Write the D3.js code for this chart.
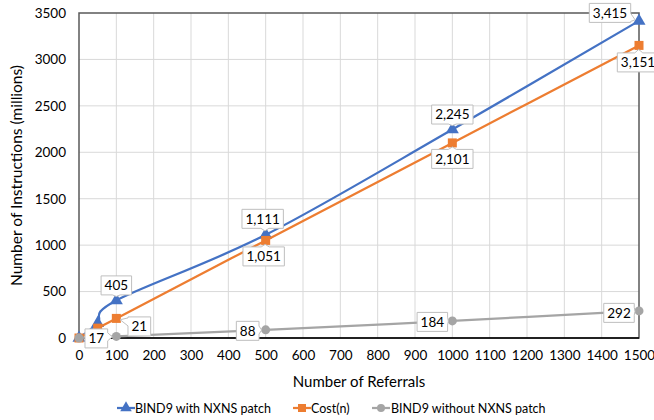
<!DOCTYPE html>
<html><head><meta charset="utf-8">
<script src="https://cdn.jsdelivr.net/npm/d3@7"></script>
<style>
html,body{margin:0;padding:0;background:#fff;}
svg{display:block;font-family:Lato,"Open Sans",sans-serif;}
</style></head>
<body>
<svg id="chart" width="654" height="420"></svg>
<script>
// ---- data ----
const referrals = [0, 50, 100, 500, 1000, 1500];
const withPatch = [0, 160, 405, 1111, 2245, 3415];
const costN = [0, 106, 211, 1051, 2101, 3151];
const withoutPatch = [0, 9, 17, 88, 184, 292];
const seriesNames = ["BIND9 with NXNS patch", "Cost(n)", "BIND9 without NXNS patch"];
const labelText = [
  ["", "", "405", "1,111", "2,245", "3,415"],
  ["", "", "21", "1,051", "2,101", "3,151"],
  ["", "", "17", "88", "184", "292"]
];
const xTicks = [0,100,200,300,400,500,600,700,800,900,1000,1100,1200,1300,1400,1500];
const yTicks = [0,500,1000,1500,2000,2500,3000,3500];

// ---- layout / styles ----
const colors = ["#4472C4", "#ED7D31", "#A5A5A5"];
const shapes = ["triangle", "square", "circle"];
const labelOffsets = [
  [null, null, [0,-15], [-3,-16], [0,-15], [-29,-8]],
  [null, null, [23,8], [-2,16], [0,16], [-1,17]],
  [null, null, [-20,2], [-18,1], [-20,1], [-20,2]]
];
const L = 79, R = 639, T = 13, B = 338;

const svg = d3.select("#chart");
const x = d3.scaleLinear().domain([0,1500]).range([L,R]);
const y = d3.scaleLinear().domain([0,3500]).range([B,T]);

// gridlines
svg.append("g").selectAll("line.v").data(xTicks.slice(1,-1)).join("line")
  .attr("x1", d=>x(d)).attr("x2", d=>x(d)).attr("y1", T).attr("y2", B)
  .attr("stroke", "#d9d9d9").attr("stroke-width", 1);
svg.append("g").selectAll("line.h").data(yTicks.slice(1,-1)).join("line")
  .attr("y1", d=>y(d)).attr("y2", d=>y(d)).attr("x1", L).attr("x2", R)
  .attr("stroke", "#d9d9d9").attr("stroke-width", 1);

// plot border
svg.append("rect").attr("x", L).attr("y", T).attr("width", R-L).attr("height", B-T)
  .attr("fill", "none").attr("stroke", "#595959").attr("stroke-width", 1.5);
svg.append("line").attr("x1", L).attr("x2", R).attr("y1", B).attr("y2", B)
  .attr("stroke", "#000").attr("stroke-width", 1.5);

// axes
const xAxis = svg.append("g").attr("transform", `translate(0,${B})`)
  .call(d3.axisBottom(x).tickValues(xTicks).tickSize(0).tickPadding(12).tickFormat(d3.format("d")));
xAxis.select(".domain").remove();
const yAxis = svg.append("g").attr("transform", `translate(${L},0)`)
  .call(d3.axisLeft(y).tickValues(yTicks).tickSize(0).tickPadding(13).tickFormat(d3.format("d")));
yAxis.select(".domain").remove();
svg.selectAll(".tick text").attr("font-family", "Lato").attr("font-size", 13.5).attr("fill", "#000");

// axis titles
svg.append("text").attr("x", (L+R)/2).attr("y", 387).attr("text-anchor", "middle")
  .attr("font-size", 15).attr("fill", "#000").text("Number of Referrals");
svg.append("text").attr("transform", `translate(22,${(T+B)/2}) rotate(-90)`)
  .attr("text-anchor", "middle").attr("font-size", 15.5).attr("fill", "#000")
  .text("Number of Instructions (millions)");

// series
const allSeries = [withPatch, costN, withoutPatch];
const line = d3.line().x(d=>x(d[0])).y(d=>y(d[1])).curve(d3.curveCardinal.tension(0));

function marker(g, shape, color, cx, cy, s) {
  if (shape === "triangle") {
    g.append("path").attr("d", d3.symbol(d3.symbolTriangle, s*s*0.9)())
      .attr("transform", `translate(${cx},${cy})`).attr("fill", color);
  } else if (shape === "square") {
    g.append("rect").attr("x", cx-s/2).attr("y", cy-s/2).attr("width", s).attr("height", s).attr("fill", color);
  } else {
    g.append("circle").attr("cx", cx).attr("cy", cy).attr("r", s/2).attr("fill", color);
  }
}

allSeries.forEach((vals, i) => {
  const pts = referrals.map((r, j) => [r, vals[j]]);
  const g = svg.append("g");
  g.append("path").datum(pts).attr("d", line).attr("fill", "none")
    .attr("stroke", colors[i]).attr("stroke-width", 2.25);
  pts.forEach(p => marker(g, shapes[i], colors[i], x(p[0]), y(p[1]), 9));
});

// callout labels
function calloutPath(x0, y0, x1, y1, tx, ty) {
  const w = 4;
  let side;
  if (ty > y1) side = "b"; else if (ty < y0) side = "t"; else if (tx > x1) side = "r"; else side = "l";
  const cxp = Math.max(x0+w+1, Math.min(x1-w-1, tx));
  const cyp = Math.max(y0+w+1, Math.min(y1-w-1, ty));
  let p = `M${x0},${y0}`;
  if (side === "t") p += `L${cxp-w},${y0}L${tx},${ty}L${cxp+w},${y0}`;
  p += `L${x1},${y0}`;
  if (side === "r") p += `L${x1},${cyp-w}L${tx},${ty}L${x1},${cyp+w}`;
  p += `L${x1},${y1}`;
  if (side === "b") p += `L${cxp+w},${y1}L${tx},${ty}L${cxp-w},${y1}`;
  p += `L${x0},${y1}`;
  if (side === "l") p += `L${x0},${cyp+w}L${tx},${ty}L${x0},${cyp-w}`;
  return p + "Z";
}

const lg = svg.append("g");
allSeries.forEach((vals, i) => {
  referrals.forEach((r, j) => {
    const t = labelText[i][j];
    if (!t) return;
    const px = x(r), py = y(vals[j]);
    const off = labelOffsets[i][j];
    const cx = px + off[0], cy = py + off[1];
    const tmp = lg.append("text").attr("font-size", 13.5).attr("text-anchor", "middle")
      .attr("x", cx).attr("y", cy + 4.8).attr("fill", "#000").text(t);
    const tw = tmp.node().getComputedTextLength();
    const bw = tw + 7, bh = 19;
    const x0 = cx - bw/2, y0 = cy - bh/2, x1 = cx + bw/2, y1 = cy + bh/2;
    const dx = px - cx, dy = py - cy, dist = Math.hypot(dx, dy);
    const tx = cx + dx * (dist - 4) / dist, ty = cy + dy * (dist - 4) / dist;
    lg.insert("path", () => tmp.node()).attr("d", calloutPath(x0, y0, x1, y1, tx, ty))
      .attr("fill", "#fff").attr("stroke", "#bfbfbf").attr("stroke-width", 1);
  });
});

// legend
const legendItems = [
  {x: 117, tx: 135},
  {x: 293, tx: 311},
  {x: 372, tx: 391}
];
const leg = svg.append("g");
seriesNames.forEach((name, i) => {
  const it = legendItems[i];
  leg.append("line").attr("x1", it.x).attr("x2", it.x+18).attr("y1", 408).attr("y2", 408)
    .attr("stroke", colors[i]).attr("stroke-width", 2.25);
  marker(leg, shapes[i], colors[i], it.x+9, 408, 8);
  leg.append("text").attr("x", it.tx).attr("y", 412.5).attr("font-size", 12.5)
    .attr("fill", "#000").text(name);
});
</script>
</body></html>
